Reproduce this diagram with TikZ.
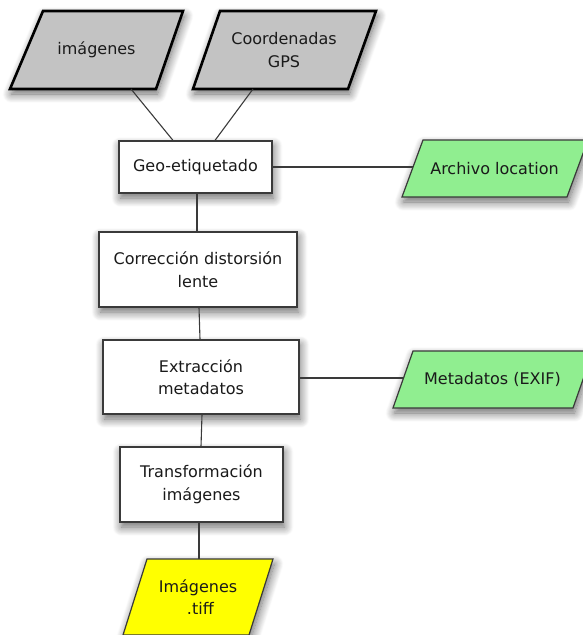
\documentclass[tikz,border=0pt]{standalone}
\usepackage{fontspec}
\setmainfont{DejaVu Sans}
\usetikzlibrary{shadows.blur}

\definecolor{inputgray}{HTML}{C3C3C3}
\definecolor{outgreen}{HTML}{90EE90}
\definecolor{outyellow}{HTML}{FFFF00}
\definecolor{edgegray}{HTML}{3A3A3A}
\definecolor{inkdark}{HTML}{1A1A1A}

\tikzset{
  softshadow/.style={blur shadow={shadow xshift=1.5pt, shadow yshift=-5pt,
      shadow blur radius=9pt, shadow blur steps=12, shadow opacity=60}},
  label/.style={font=\fontsize{16}{22.5}\selectfont, text=inkdark, align=center, inner sep=0pt},
  procbox/.style={draw=edgegray, line width=1.2pt, fill=white, softshadow,
      font=\fontsize{16}{22.5}\selectfont, text=inkdark, align=center, inner sep=0pt},
  srcpara/.style={draw=black, line width=2.6pt, line join=miter, fill=inputgray, softshadow},
  outpara/.style={draw=edgegray, line width=1.2pt, softshadow},
  link/.style={draw=edgegray, line width=1.1pt},
}

\begin{document}
\begin{tikzpicture}[x=1pt, y=-1pt]
  \useasboundingbox (0,0) rectangle (583,635);

  % input data sources
  \path[srcpara] (43,11) -- (183,11) -- (156,89) -- (10,89) -- cycle;
  \node[label] (img) at (96.5,50) {imágenes};
  \coordinate (img-out) at (131,89);

  \path[srcpara] (220,11) -- (376,11) -- (348,89) -- (193,89) -- cycle;
  \node[label] (gps) at (284,50) {Coordenadas\\GPS};
  \coordinate (gps-out) at (253,89);

  % processing steps
  \node[procbox, minimum width=153pt, minimum height=52pt] (geo) at (195.5,167) {Geo-etiquetado};
  \node[procbox, minimum width=198pt, minimum height=75pt] (corr) at (198,269.5) {Corrección distorsión\\lente};
  \node[procbox, minimum width=196pt, minimum height=74pt] (extr) at (201,377) {Extracción\\metadatos};
  \node[procbox, minimum width=163pt, minimum height=75pt] (trans) at (201.5,484.5) {Transformación\\imágenes};

  % output data
  \path[outpara, fill=outgreen] (423,140) -- (588,140) -- (567,197) -- (402,197) -- cycle;
  \node[label] (loc) at (494.5,168.5) {Archivo location};
  \coordinate (loc-in) at (412.5,167);

  \path[outpara, fill=outgreen] (413,351) -- (593,351) -- (573,408) -- (393,408) -- cycle;
  \node[label] (exif) at (492.5,379.5) {Metadatos (EXIF)};
  \coordinate (exif-in) at (403,378);

  \path[outpara, fill=outyellow] (147,559) -- (273,559) -- (249,635) -- (123,635) -- cycle;
  \node[label] (tiff) at (198,597) {Imágenes\\\phantom{I}.tiff};
  \coordinate (tiff-in) at (199,559);

  % connectors
  \draw[link] (img-out) -- ([xshift=-22.5pt]geo.north);
  \draw[link] (gps-out) -- ([xshift=19.5pt]geo.north);
  \draw[link] (geo.east |- 0,167) -- (loc-in);
  \draw[link] ([xshift=1.5pt]geo.south) -- ([xshift=-1pt]corr.north);
  \draw[link] ([xshift=1pt]corr.south) -- ([xshift=-1pt]extr.north);
  \draw[link] (extr.east |- 0,378) -- (exif-in);
  \draw[link] ([xshift=1pt]extr.south) -- ([xshift=-0.5pt]trans.north);
  \draw[link] ([xshift=-2.5pt]trans.south) -- (tiff-in);
\end{tikzpicture}
\end{document}
